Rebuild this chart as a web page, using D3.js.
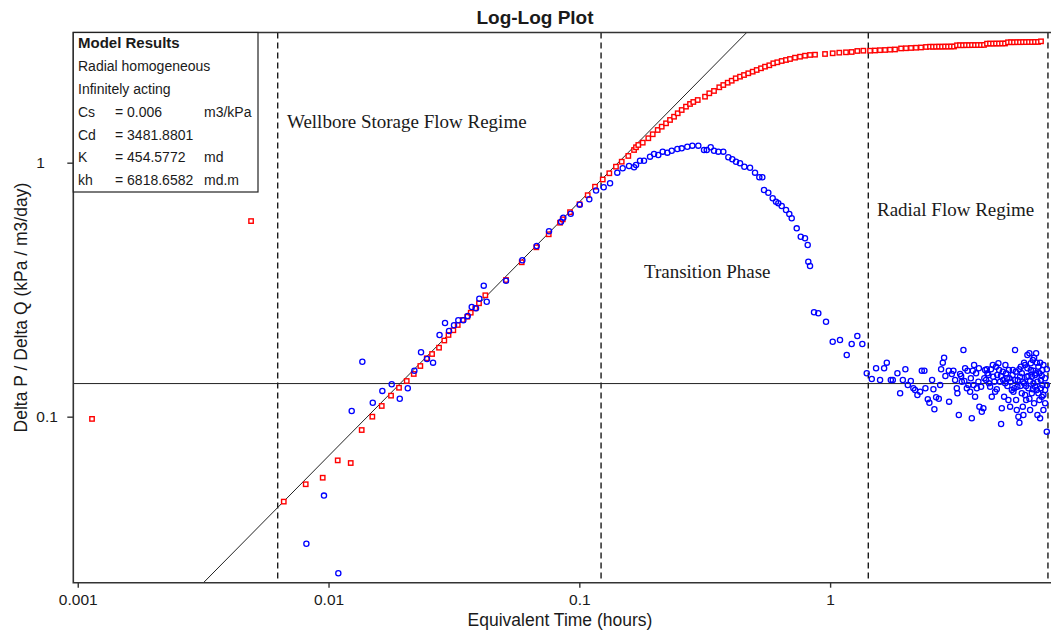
<!DOCTYPE html>
<html>
<head>
  <style>
    body {
      margin: 0;
      background: #fff;
    }
    text {
      font-family: "Liberation Sans", Arial, sans-serif;
      fill: #1a1a1a;
    }
    .frame {
      fill: none;
      stroke: #333;
      stroke-width: 1.6px;
    }
    .regime {
      fill: none;
      stroke: #1a1a1a;
      stroke-width: 1.4px;
      stroke-dasharray: 6, 4;
    }
    .ref-line {
      fill: none;
      stroke: #222;
      stroke-width: 1px;
    }
    .note {
      font-family: "Liberation Serif", "Times New Roman", serif;
      font-size: 19px;
    }
    .pressure {
      fill: #fff;
      stroke: #f00;
      stroke-width: 1.4px;
    }
    .derivative {
      fill: none;
      stroke: #00f;
      stroke-width: 1.3px;
    }
  </style>
</head>
<body>
  <script src="https://cdn.jsdelivr.net/npm/d3@7"></script>
  <script>
    var width = 1051, height = 635;

    // axis extents and ticks
    var timeExtent = [0.00096, 7.67];
    var ratioExtent = [0.0222, 3.255];
    var timeTicks = [0.001, 0.01, 0.1, 1];
    var timeTickLabels = ["0.001", "0.01", "0.1", "1"];
    var ratioTicks = [0.1, 1];
    var ratioTickLabels = ["0.1", "1"];

    // straight lines: unit slope (wellbore storage) and radial flow level
    var unitSlopeCoef = 7.0;
    var radialLevel = 0.135;
    var regimeTimes = [0.00627, 0.1221, 1.42, 7.39];

    var notes = [
      {text: "Wellbore Storage Flow Regime", t: 0.00683, v: 1.37},
      {text: "Transition Phase", t: 0.1811, v: 0.3516},
      {text: "Radial Flow Regime", t: 1.538, v: 0.617}
    ];

    var modelTitle = "Model Results";
    var modelLines = ["Radial homogeneous", "Infinitely acting"];
    var paramNames = ["Cs", "Cd", "K", "kh"];
    var paramValues = ["= 0.006", "= 3481.8801", "= 454.5772", "= 6818.6582"];
    var paramUnits = ["m3/kPa", "", "md", "md.m"];

    // delta P / delta Q  [time (h), value]
    var pressureData = [
      [0.00114,0.0980],[0.00491,0.589],[0.00663,0.0463],[0.00811,0.0542],[0.00948,0.0575],
      [0.01088,0.0673],[0.01226,0.0657],[0.01356,0.0886],[0.01495,0.100],[0.01630,0.1102],
      [0.01775,0.1210],[0.01910,0.1300],[0.02050,0.1382],[0.02187,0.1473],[0.02323,0.1583],
      [0.02464,0.1698],[0.02587,0.1765],[0.02758,0.1869],[0.02895,0.1995],[0.03009,0.2098],
      [0.03145,0.2189],[0.03275,0.2296],[0.03428,0.2403],[0.03576,0.2475],[0.03690,0.2567],
      [0.03848,0.2672],[0.03981,0.2796],[0.04219,0.3006],[0.05102,0.3452],[0.05893,0.4054],
      [0.06738,0.4644],[0.07551,0.5225],[0.08375,0.5803],[0.08586,0.5985],[0.09183,0.6385],
      [0.1002,0.6862],[0.1080,0.7448],[0.1155,0.8042],[0.1240,0.8588],[0.1317,0.9085],
      [0.1400,0.9644],[0.1476,1.009],[0.1568,1.063],[0.1653,1.122],[0.1683,1.150],
      [0.1719,1.174],[0.1790,1.199],[0.1884,1.248],[0.1962,1.294],[0.2054,1.345],
      [0.2131,1.386],[0.2217,1.429],[0.2300,1.473],[0.2386,1.517],[0.2468,1.565],
      [0.2560,1.612],[0.2663,1.662],[0.2763,1.703],[0.2848,1.734],[0.2966,1.765],
      [0.3171,1.819],[0.3298,1.876],[0.3444,1.916],[0.3615,1.981],[0.3751,2.022],
      [0.3906,2.065],[0.4052,2.102],[0.4204,2.149],[0.4373,2.181],[0.4536,2.214],
      [0.4718,2.249],[0.4913,2.282],[0.5097,2.317],[0.5302,2.353],[0.5500,2.388],
      [0.5723,2.418],[0.5937,2.462],[0.6159,2.485],[0.6412,2.514],[0.6671,2.537],
      [0.6920,2.560],[0.7245,2.591],[0.7586,2.614],[0.7942,2.638],[0.8316,2.655],
      [0.8707,2.662],[0.9545,2.679],[1.024,2.696],[1.088,2.711],[1.157,2.720],
      [1.219,2.728],[1.284,2.753],[1.357,2.760],[1.443,2.760],[1.510,2.765],
      [1.581,2.773],[1.656,2.778],[1.733,2.786],[1.815,2.791],[1.918,2.817],
      [2.008,2.822],[2.102,2.829],[2.200,2.835],[2.304,2.842],[2.413,2.855],
      [2.502,2.862],[2.572,2.860],[2.644,2.862],[2.718,2.864],[2.794,2.862],
      [2.872,2.866],[2.952,2.864],[3.034,2.868],[3.119,2.866],[3.206,2.899],
      [3.295,2.901],[3.388,2.899],[3.483,2.903],[3.580,2.901],[3.680,2.905],
      [3.783,2.903],[3.888,2.906],[3.997,2.905],[4.108,2.908],[4.223,2.942],
      [4.341,2.944],[4.463,2.942],[4.587,2.946],[4.715,2.944],[4.847,2.948],
      [4.982,2.946],[5.121,2.979],[5.265,2.981],[5.411,2.979],[5.563,2.983],
      [5.718,2.981],[5.877,2.985],[6.041,2.983],[6.210,2.987],[6.383,2.985],
      [6.561,2.989],[6.745,2.988],[6.933,3.005]
    ];

    // pressure derivative  [time (h), value]
    var derivativeData = [
      [0.00816,0.0316],[0.00959,0.0489],[0.01094,0.0242],[0.01237,0.1053],[0.01364,0.1646],
      [0.01501,0.1135],[0.01639,0.1263],[0.01786,0.1341],[0.01923,0.1177],[0.02070,0.1294],
      [0.02199,0.1517],[0.02338,0.1793],[0.02470,0.1688],[0.02611,0.1632],[0.02771,0.2098],
      [0.02914,0.2338],[0.03023,0.2175],[0.03165,0.2290],[0.03292,0.2396],[0.03447,0.2396],
      [0.03589,0.2491],[0.03724,0.2703],[0.03873,0.2672],[0.03993,0.2914],[0.04158,0.3280],
      [0.04274,0.2836],[0.05102,0.3430],[0.05926,0.4128],[0.06763,0.4699],[0.07572,0.5370],
      [0.08453,0.5856],[0.08634,0.6072],[0.09242,0.6296],[0.1004,0.6837],[0.1096,0.7178],
      [0.1166,0.7771],[0.1251,0.8000],[0.1326,0.8296],[0.1417,0.9135],[0.1489,0.9506],
      [0.1578,0.9705],[0.1653,0.9592],[0.1683,0.9793],[0.1746,1.018],[0.1811,1.018],
      [0.1914,1.056],[0.1986,1.082],[0.2065,1.072],[0.2150,1.105],[0.2244,1.095],
      [0.2336,1.115],[0.2460,1.132],[0.2560,1.139],[0.2695,1.156],[0.2822,1.167],
      [0.2982,1.167],[0.3142,1.122],[0.3221,1.122],[0.3341,1.150],[0.3444,1.115],
      [0.3583,1.105],[0.3751,1.105],[0.3928,1.050],[0.4074,1.031],[0.4215,1.009],
      [0.4373,0.9945],[0.4550,0.9644],[0.4794,0.9557],[0.5019,0.9135],[0.5221,0.8762],
      [0.5367,0.8762],[0.5451,0.7807],[0.5670,0.7619],[0.5903,0.7244],[0.6085,0.7023],
      [0.6215,0.6922],[0.6412,0.6754],[0.6671,0.6514],[0.6876,0.6281],[0.7029,0.6040],
      [0.7359,0.5515],[0.7636,0.5113],[0.7942,0.5040],[0.8141,0.4742],[0.8186,0.4076],
      [0.8316,0.3920],[0.8627,0.2576],[0.8974,0.2553],[0.9632,0.2366],[1.024,0.1973],
      [1.095,0.2004],[1.165,0.1750],[1.219,0.1933],[1.284,0.2078],[1.344,0.1933],
      [1.400,0.1482],[1.466,0.1407],[1.525,0.1551],[1.582,0.1395],[1.642,0.1551],
      [1.683,0.1632],[1.746,0.1395],[1.778,0.1395],[1.855,0.1482],[1.902,0.1236],
      [1.950,0.1395],[1.996,0.1537],[2.041,0.1333],[2.098,0.1382],[2.148,0.1294],
      [2.182,0.1274],[2.229,0.1217],[2.285,0.1254],[2.321,0.1517],[2.377,0.1517],
      [2.399,0.1294],[2.452,0.1171],[2.488,0.1135],[2.551,0.1395],[2.582,0.1282],
      [2.605,0.1069],[2.646,0.1192],[2.713,0.1177],[2.746,0.1333],[2.771,0.1537],
      [2.814,0.1632],[2.848,0.1707],[2.882,0.1446],[2.974,0.1517],[2.982,0.1146],
      [3.057,0.1473],[3.102,0.1517],[3.151,0.1395],[3.200,0.1294],[3.218,0.1236],
      [3.260,0.1016],[3.299,0.1473],[3.351,0.1373],[3.401,0.1830],[3.454,0.1551],
      [3.509,0.1294],[3.560,0.1333],[3.616,0.1254],[3.673,0.0986],[3.707,0.1517],
      [3.751,0.1598],[3.785,0.1199],[3.845,0.1294],[3.902,0.1373],[3.938,0.1095],
      [4.026,0.1046],[4.085,0.1079],[4.150,0.1527],[4.188,0.1395],[4.215,0.1537],
      [4.277,0.1459],[4.345,0.1312],[4.412,0.1199],[4.453,0.1598],[4.519,0.1373],
      [4.590,0.1574],[4.620,0.1282],[4.689,0.1623],[4.762,0.1373],[4.806,0.0936],
      [4.837,0.1079],[4.882,0.1504],[4.941,0.1199],[4.987,0.1353],[5.033,0.1482],
      [5.093,0.1321],[5.140,0.1163],[5.188,0.1416],[5.221,0.1095],[5.303,0.1274],
      [5.352,0.1527],[5.382,0.1254],[5.465,0.1830],[5.465,0.1395],[5.516,0.1163],
      [5.551,0.1063],[5.582,0.1312],[5.633,0.1000],[5.686,0.0947],[5.722,0.1437],
      [5.759,0.1574],[5.812,0.1236],[5.866,0.1095],[5.898,0.1016],[5.936,0.1353],
      [5.991,0.1598],[6.047,0.1163],[6.086,0.1437],[6.119,0.1750],[6.176,0.1294],
      [6.233,0.1777],[6.273,0.1063],[6.313,0.1527],[6.372,0.1236],[6.431,0.1672],
      [6.466,0.1353],[6.508,0.1129],[6.568,0.1459],[6.629,0.1777],[6.672,0.1274],
      [6.709,0.1016],[6.769,0.1574],[6.832,0.1163],[6.876,0.0986],[6.921,0.1395],
      [6.985,0.1199],[7.023,0.1527],[7.088,0.1063],[7.200,0.1274],[7.311,0.0873],
      [5.812,0.1482],[5.866,0.1373],[5.936,0.1632],[5.991,0.1217],[6.047,0.1321],
      [6.119,0.1551],[6.176,0.1446],[6.233,0.1177],[6.273,0.1382],[6.313,0.1623],
      [6.372,0.1437],[6.431,0.1282],[6.466,0.1517],[6.508,0.1707],[6.568,0.1312],
      [6.629,0.1482],[6.672,0.1632],[6.709,0.1373],[6.769,0.1236],[6.832,0.1482],
      [6.876,0.1632],[6.921,0.1294],[6.985,0.1446],[7.023,0.1333],[7.088,0.1598],
      [7.088,0.1217],[7.200,0.1416],[7.200,0.1129],[7.311,0.1333],[7.311,0.1537],
      [3.33,0.1446],[3.43,0.1382],[3.53,0.1517],[3.64,0.1416],[3.73,0.1333],
      [3.82,0.1482],[3.92,0.1551],[4.00,0.1312],[4.12,0.1416],[4.24,0.1482],
      [4.30,0.1353],[4.38,0.1537],[4.47,0.1437],[4.55,0.1254],[4.64,0.1459],
      [4.72,0.1527],[4.80,0.1446],[4.90,0.1395],[5.00,0.1598],[5.07,0.1416],
      [5.16,0.1527],[5.25,0.1373],[5.34,0.1459],[5.43,0.1294],[5.50,0.1504],
      [5.60,0.1395],[5.68,0.1537],[5.74,0.1321]
    ];

    var plotLeft = 73.3, plotTop = 32.5, plotRight = 1052, plotBottom = 582.7;

    var svg = d3.select("body").append("svg")
        .attr("width", width)
        .attr("height", height);

    var x = d3.scaleLog().domain(timeExtent).range([plotLeft, plotRight]);
    var y = d3.scaleLog().domain(ratioExtent).range([plotBottom, plotTop]);

    svg.append("clipPath")
        .attr("id", "plotClip")
      .append("rect")
        .attr("x", plotLeft).attr("y", plotTop)
        .attr("width", plotRight - plotLeft).attr("height", plotBottom - plotTop);

    var plot = svg.append("g").attr("clip-path", "url(#plotClip)");

    // regime boundaries
    plot.selectAll(".regime")
        .data(regimeTimes)
      .enter().append("line")
        .attr("class", "regime")
        .attr("x1", d => x(d)).attr("x2", d => x(d))
        .attr("y1", plotTop).attr("y2", plotBottom);

    // radial flow level
    plot.append("line")
        .attr("class", "ref-line")
        .attr("x1", plotLeft).attr("x2", plotRight)
        .attr("y1", y(radialLevel)).attr("y2", y(radialLevel));

    // unit slope line
    var slopeEnds = [ratioExtent[0] / unitSlopeCoef, ratioExtent[1] / unitSlopeCoef];
    plot.append("line")
        .attr("class", "ref-line")
        .attr("x1", x(slopeEnds[0])).attr("y1", y(slopeEnds[0] * unitSlopeCoef))
        .attr("x2", x(slopeEnds[1])).attr("y2", y(slopeEnds[1] * unitSlopeCoef));

    plot.selectAll(".pressure")
        .data(pressureData)
      .enter().append("rect")
        .attr("class", "pressure")
        .attr("x", d => x(d[0]) - 2.2)
        .attr("y", d => y(d[1]) - 2.2)
        .attr("width", 4.4)
        .attr("height", 4.4);

    plot.selectAll(".derivative")
        .data(derivativeData)
      .enter().append("circle")
        .attr("class", "derivative")
        .attr("cx", d => x(d[0]))
        .attr("cy", d => y(d[1]))
        .attr("r", 2.6);

    svg.selectAll(".note")
        .data(notes)
      .enter().append("text")
        .attr("class", "note")
        .attr("x", d => x(d.t))
        .attr("y", d => y(d.v))
        .text(d => d.text);

    // frame: left, top, bottom (right edge falls outside the window)
    svg.append("path")
        .attr("class", "frame")
        .attr("d", "M" + plotRight + "," + plotTop + "H" + plotLeft + "V" + plotBottom + "H" + plotRight);

    // axes
    var xAxis = svg.append("g")
        .attr("transform", "translate(0," + plotBottom + ")")
        .call(d3.axisBottom(x).tickValues(timeTicks)
          .tickFormat((d, i) => timeTickLabels[i]).tickSize(5).tickSizeOuter(0));
    xAxis.select(".domain").remove();
    xAxis.selectAll("line").attr("stroke", "#333").attr("stroke-width", 1.4);
    xAxis.selectAll("text")
        .attr("y", 11)
        .style("font-size", "15.5px")
        .style("font-family", "'Liberation Sans', Arial, sans-serif")
        .attr("fill", "#1a1a1a");

    var yAxis = svg.append("g")
        .attr("transform", "translate(" + plotLeft + ",0)")
        .call(d3.axisLeft(y).tickValues(ratioTicks)
          .tickFormat((d, i) => ratioTickLabels[i]).tickSize(6).tickSizeOuter(0));
    yAxis.select(".domain").remove();
    yAxis.selectAll("line").attr("stroke", "#333").attr("stroke-width", 1.4);
    yAxis.selectAll("text")
        .attr("x", -37)
        .attr("text-anchor", "start")
        .style("font-size", "15.5px")
        .style("font-family", "'Liberation Sans', Arial, sans-serif")
        .attr("fill", "#1a1a1a");

    svg.append("text")
        .attr("x", 535).attr("y", 24)
        .attr("text-anchor", "middle")
        .style("font-size", "19px")
        .style("font-weight", "bold")
        .text("Log-Log Plot");

    svg.append("text")
        .attr("x", 560).attr("y", 626)
        .attr("text-anchor", "middle")
        .style("font-size", "17.5px")
        .text("Equivalent Time (hours)");

    svg.append("text")
        .attr("transform", "translate(27," + ((plotTop + plotBottom) / 2) + ") rotate(-90)")
        .attr("text-anchor", "middle")
        .style("font-size", "17.5px")
        .text("Delta P / Delta Q (kPa / m3/day)");

    // model results box
    var box = svg.append("g");
    box.append("rect")
        .attr("x", plotLeft).attr("y", plotTop)
        .attr("width", 184.7).attr("height", 159.5)
        .attr("fill", "#fff")
        .attr("stroke", "#222")
        .attr("stroke-width", 1.2);

    var lineStep = 22.8, firstBase = 48.3;
    box.append("text")
        .attr("x", 78).attr("y", firstBase)
        .style("font-size", "15px")
        .style("font-weight", "bold")
        .text(modelTitle);

    box.selectAll(".model-line")
        .data(modelLines)
      .enter().append("text")
        .attr("class", "model-line")
        .attr("x", 78)
        .attr("y", (d, i) => firstBase + lineStep * (i + 1))
        .style("font-size", "14px")
        .text(d => d);

    var rows = box.selectAll(".param")
        .data(paramNames)
      .enter().append("g")
        .attr("class", "param")
        .attr("transform", (d, i) => "translate(0," + (firstBase + lineStep * (i + 3)) + ")")
        .style("font-size", "14px");
    rows.append("text").attr("x", 78).text(d => d);
    rows.append("text").attr("x", 115).text((d, i) => paramValues[i]);
    rows.append("text").attr("x", 204).text((d, i) => paramUnits[i]);
  </script>
</body>
</html>
